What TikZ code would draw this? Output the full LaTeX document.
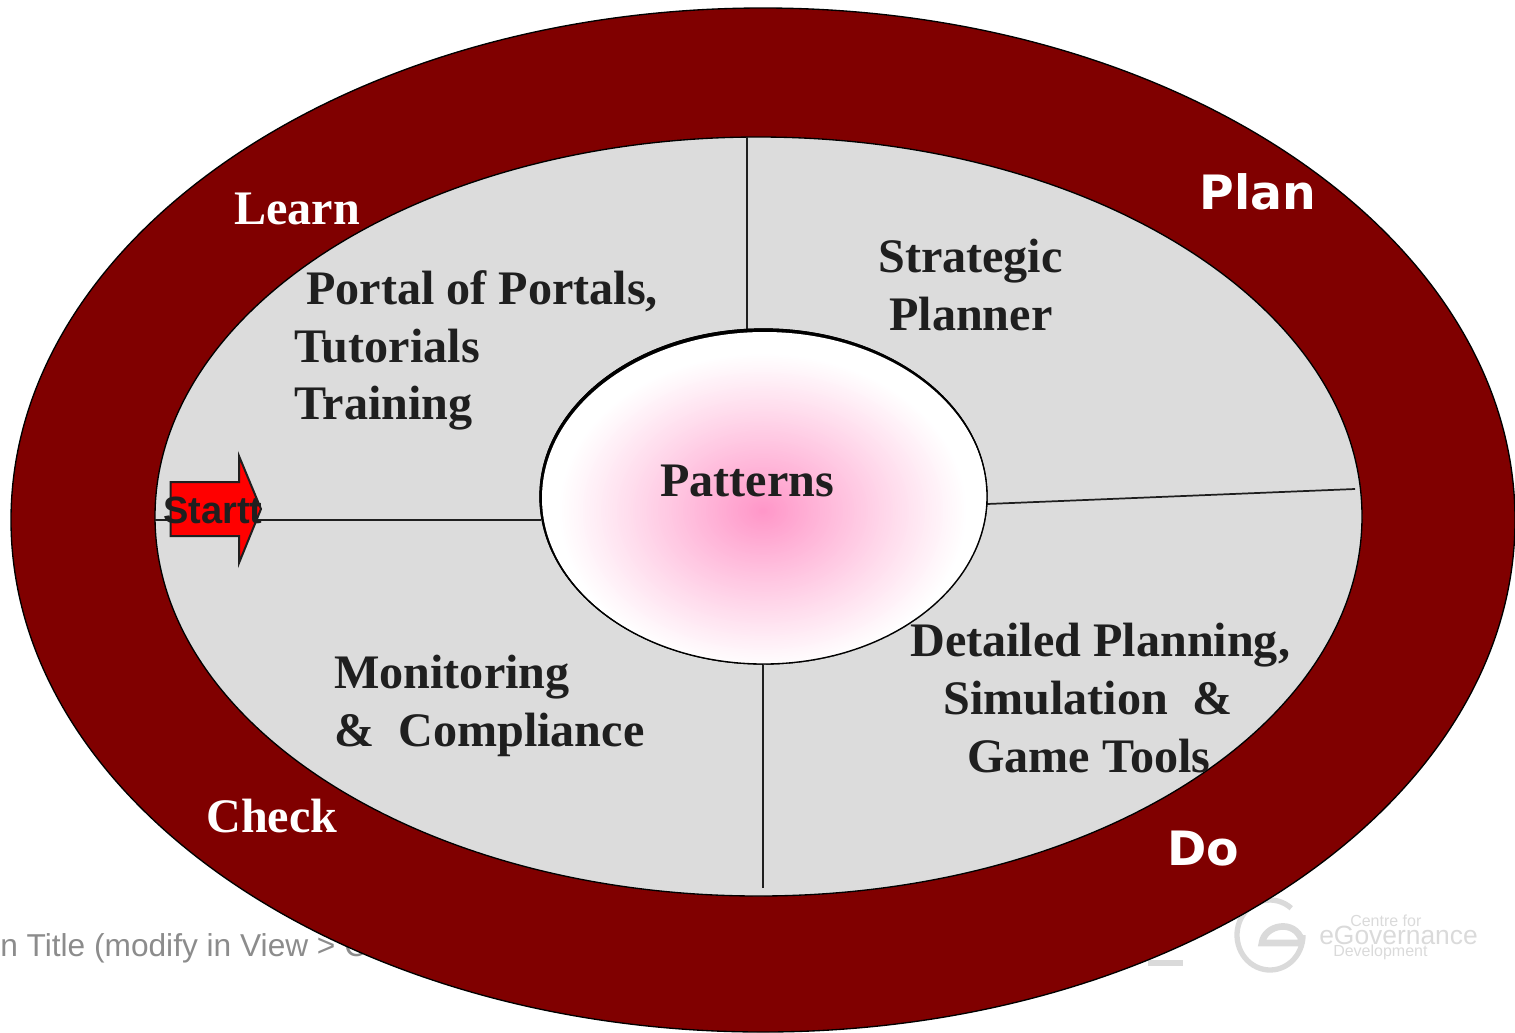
\documentclass[tikz,border=0pt]{standalone}
\usepackage{fontspec}
\setmainfont{Liberation Serif}
\newfontfamily\dvfont{DejaVu Sans}
\newfontfamily\lsfont{Liberation Sans}
\usetikzlibrary{shapes.geometric}
\definecolor{maroonbg}{HTML}{800000}
\definecolor{innergrey}{HTML}{DCDCDC}
\definecolor{inkdark}{HTML}{1F1F1F}
\definecolor{footgrey}{HTML}{8C8C8C}
\definecolor{logogrey}{HTML}{DADADA}
\definecolor{hubpink}{RGB}{255,150,200}
\tikzset{
  oval/.style={shape=ellipse,draw=black,line width=1pt,inner sep=0pt,outer sep=0pt},
  divider/.style={draw=inkdark,line width=1.3pt},
  serifline/.style={anchor=base west,inner sep=0pt,text=inkdark,font=\bfseries\fontsize{36.1}{36}\selectfont},
  whiteserif/.style={serifline,text=white},
  whitesans/.style={anchor=base west,inner sep=0pt,text=white,font=\dvfont\bfseries\fontsize{35.5}{35}\selectfont},
  logoink/.style={draw=logogrey,line width=4pt},
  logotext/.style={anchor=base west,inner sep=0pt,text=logogrey,font=\lsfont}
}
\begin{document}
\begin{tikzpicture}[x=0.75pt,y=-0.75pt]
\useasboundingbox (0,0) rectangle (1515,1032);
% background footer, hidden partly by the big ellipse
\node[anchor=base west,inner sep=0pt,text=footgrey,font=\lsfont\fontsize{23.75}{24}\selectfont] (footer) at (0,956) {n Title (modify in View > C};
\draw[logoink] (1148,963) -- (1183,963);
\draw[logoink] plot[domain=-50:-360,samples=50,smooth] ({1270+33*cos(\x)},{935+35*sin(\x)});
\draw[logoink,line width=5pt] (1302,943) -- (1262,943) .. controls (1264,925) and (1295,918) .. (1302,941);
\node[logotext,font=\lsfont\fontsize{19.8}{20}\selectfont] (logoB) at (1319,944) {eGovernance};
\node[logotext,font=\lsfont\fontsize{12}{12}\selectfont] (logoA) at (1350,926) {Centre for};
\node[logotext,font=\lsfont\fontsize{12}{12}\selectfont] (logoC) at (1333,956) {Development};
% rings
\node[oval,fill=maroonbg,minimum width=1504*0.75pt,minimum height=1024*0.75pt] (outer) at (763,520) {};
\node[oval,fill=innergrey,minimum width=1207*0.75pt,minimum height=759*0.75pt] (inner) at (758.5,516.5) {};
% spokes
\coordinate (spokeT) at (747,137);
\coordinate (spokeTb) at (747,330);
\coordinate (spokeR) at (1355,489);
\coordinate (spokeRb) at (987,504);
\coordinate (spokeB) at (763,888);
\coordinate (spokeBb) at (763,664);
\coordinate (spokeL) at (155,520);
\coordinate (spokeLb) at (541,520);
\draw[divider] (spokeT) -- (spokeTb);
\draw[divider] (spokeR) -- (spokeRb);
\draw[divider] (spokeB) -- (spokeBb);
\draw[divider] (spokeL) -- (spokeLb);
% hub
\node[oval,fill=black,minimum width=447*0.75pt,minimum height=335*0.75pt] (hubback) at (763.5,496.5) {};
\node[shape=ellipse,inner sep=0pt,fill=white,minimum width=445*0.75pt,minimum height=332*0.75pt] (hubfill) at (764.5,498) {};
\begin{scope}
\clip (764.5,498) ellipse [x radius=222.5,y radius=166];
\foreach \i in {90,89,...,1}{
  \pgfmathsetmacro{\rr}{\i/90}
  \pgfmathsetmacro{\pp}{100*(1-\rr)^1.05}
  \fill[color=hubpink!\pp!white] (763,511) ellipse [x radius={205*\rr},y radius={158*\rr}];
}
\end{scope}
\draw[black,line width=1pt] (hubback.center) ellipse [x radius=223.5,y radius=167.5];
% start arrow
\draw[fill=red,draw=inkdark,line width=1.5pt,miter limit=10] (170.5,482) -- (239,482) -- (239,456) -- (261,509) -- (239,563) -- (239,536) -- (170.5,536) -- cycle;
\node[anchor=base west,inner sep=0pt,text=inkdark,font=\lsfont\bfseries\fontsize{28.5}{28.5}\selectfont] (start) at (163,523) {Startt};
% texts
\node[whiteserif] (learn) at (234,224) {Learn};
\node[whiteserif] (check) at (206,832) {Check};
\node[whitesans] (plan) at (1199.5,209) {Plan};
\node[whitesans] (do) at (1167,865) {Do};
\node[serifline] (p1) at (306,304) {Portal of Portals,};
\node[serifline] (p2) at (294,362) {Tutorials};
\node[serifline] (p3) at (294,419) {Training};
\node[serifline] (s1) at (878,272) {Strategic};
\node[serifline] (s2) at (889,330) {Planner};
\node[serifline] (pat) at (660,496) {Patterns};
\node[serifline] (d1) at (910,656) {Detailed Planning,};
\node[serifline] (d2) at (943,714) {Simulation\ \ \&};
\node[serifline] (d3) at (967,772) {Game Tools};
\node[serifline] (m1) at (334,688) {Monitoring};
\node[serifline] (m2) at (334,746) {\&\ \ Compliance};
\end{tikzpicture}
\end{document}
